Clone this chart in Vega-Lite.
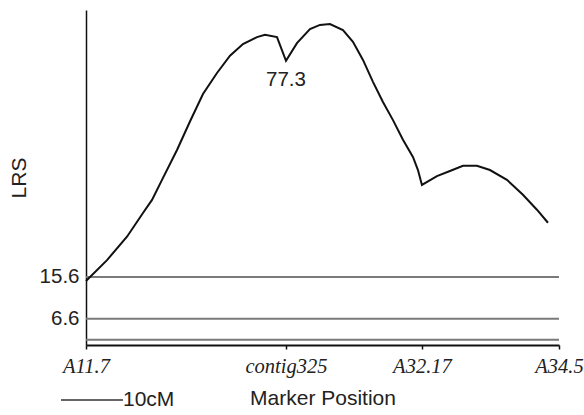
{
  "$schema": "https://vega.github.io/schema/vega-lite/v6.json",
  "width": 473,
  "height": 335,
  "autosize": {"type": "none"},
  "padding": {"left": 86, "top": 10, "right": 25, "bottom": 70},
  "background": "white",
  "config": {
    "view": {"stroke": null},
    "font": "Liberation Sans"
  },
  "datasets": {
    "curve": [
      {"cM": 0, "LRS": 14.7}, {"cM": 3.39, "LRS": 19.2}, {"cM": 6.61, "LRS": 24.2},
      {"cM": 9.19, "LRS": 29.3}, {"cM": 10.65, "LRS": 32.1}, {"cM": 12.26, "LRS": 36.4},
      {"cM": 14.68, "LRS": 42.8}, {"cM": 16.77, "LRS": 48.9}, {"cM": 18.87, "LRS": 54.8},
      {"cM": 21.13, "LRS": 59.3}, {"cM": 23.23, "LRS": 63.0}, {"cM": 25.32, "LRS": 65.5},
      {"cM": 27.58, "LRS": 67.0}, {"cM": 28.87, "LRS": 67.5}, {"cM": 30.81, "LRS": 67.0},
      {"cM": 32.26, "LRS": 61.9}, {"cM": 34.03, "LRS": 65.7}, {"cM": 36.13, "LRS": 68.7},
      {"cM": 37.74, "LRS": 69.6}, {"cM": 39.35, "LRS": 69.8}, {"cM": 41.45, "LRS": 68.5},
      {"cM": 43.06, "LRS": 66.0}, {"cM": 44.68, "LRS": 62.1}, {"cM": 46.29, "LRS": 57.4},
      {"cM": 47.9, "LRS": 53.1}, {"cM": 49.52, "LRS": 49.2}, {"cM": 51.13, "LRS": 45.0},
      {"cM": 52.74, "LRS": 41.3}, {"cM": 53.55, "LRS": 38.5}, {"cM": 54.19, "LRS": 35.3},
      {"cM": 56.61, "LRS": 37.2}, {"cM": 58.71, "LRS": 38.3}, {"cM": 60.81, "LRS": 39.4},
      {"cM": 63.06, "LRS": 39.4}, {"cM": 65.16, "LRS": 38.5}, {"cM": 67.9, "LRS": 36.4},
      {"cM": 70.48, "LRS": 33.2}, {"cM": 72.74, "LRS": 30.0}, {"cM": 74.52, "LRS": 27.2}
    ],
    "thresholds": [{"LRS": 15.6}, {"LRS": 6.6}, {"LRS": 2.1}],
    "peak": [{"marker": "contig325", "cM": 32.26, "LRS": 61.9, "label": "77.3"}],
    "scalebar": [{"start": -4.03, "end": 5.97, "label": "10cM"}]
  },
  "layer": [
    {
      "data": {"name": "thresholds"},
      "mark": {"type": "rule", "color": "#7a7a7a", "strokeWidth": 2},
      "encoding": {
        "y": {
          "field": "LRS", "type": "quantitative",
          "scale": {"domain": [1, 72.8], "nice": false, "zero": false},
          "axis": {
            "title": "LRS", "values": [6.6, 15.6], "format": ".1f",
            "grid": false, "ticks": false, "domainColor": "#111", "domainWidth": 1.5,
            "labelFont": "Liberation Sans", "labelFontSize": 20.5, "labelColor": "#222",
            "labelPadding": 7, "titleFont": "Liberation Sans", "titleFontSize": 21,
            "titleFontWeight": "normal", "titleColor": "#222", "titlePadding": 10
          }
        }
      }
    },
    {
      "data": {"name": "curve"},
      "mark": {"type": "line", "color": "#111", "strokeWidth": 2},
      "encoding": {
        "x": {
          "field": "cM", "type": "quantitative",
          "scale": {"domain": [0, 76.3], "nice": false, "zero": false},
          "axis": {
            "title": "Marker Position", "values": [0, 32.26, 54.19, 76.3],
            "labelExpr": "datum.value == 0 ? 'A11.7' : datum.value < 40 ? 'contig325' : datum.value < 60 ? 'A32.17' : 'A34.5'",
            "grid": false, "domainColor": "#111", "domainWidth": 2,
            "tickColor": "#111", "tickSize": 4, "tickWidth": 1.5,
            "labelFont": "Liberation Serif", "labelFontStyle": "italic", "labelFontSize": 20.5,
            "labelColor": "#222", "labelPadding": 7, "labelFlush": false, "labelOverlap": false,
            "titleFont": "Liberation Sans", "titleFontSize": 21, "titleFontWeight": "normal",
            "titleColor": "#222", "titlePadding": 11
          }
        },
        "y": {"field": "LRS", "type": "quantitative"}
      }
    },
    {
      "data": {"name": "peak"},
      "mark": {"type": "text", "dy": 19, "fontSize": 20.5, "color": "#222", "baseline": "middle", "align": "center"},
      "encoding": {
        "x": {"field": "cM", "type": "quantitative"},
        "y": {"field": "LRS", "type": "quantitative"},
        "text": {"field": "label"}
      }
    },
    {
      "data": {"name": "scalebar"},
      "mark": {"type": "rule", "color": "#333", "strokeWidth": 1.5},
      "encoding": {
        "x": {"field": "start", "type": "quantitative"},
        "x2": {"field": "end"},
        "y": {"datum": -10.8}
      }
    },
    {
      "data": {"name": "scalebar"},
      "mark": {"type": "text", "fontSize": 21, "color": "#222", "baseline": "middle", "align": "left"},
      "encoding": {
        "x": {"field": "end", "type": "quantitative"},
        "y": {"datum": -10.8},
        "text": {"field": "label"}
      }
    }
  ]
}
